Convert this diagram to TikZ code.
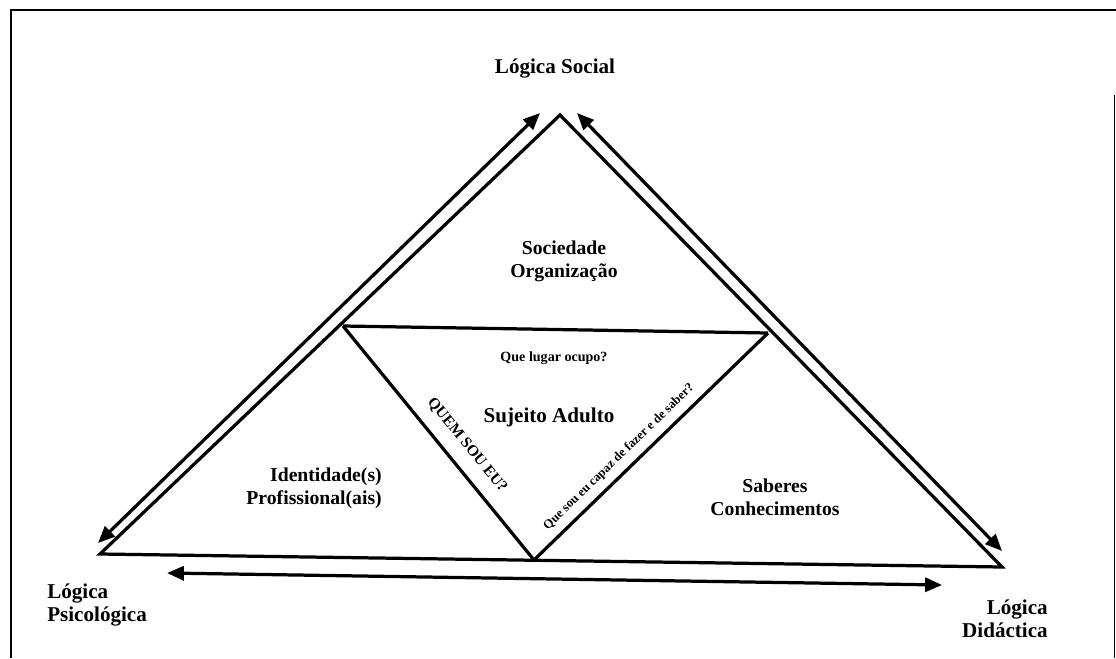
\documentclass[tikz,border=0pt]{standalone}
\usepackage{fontspec}
\setmainfont{Liberation Serif}
\usetikzlibrary{arrows.meta}
\tikzset{
  edge/.style={line width=2.3pt, line join=miter},
  dblarrow/.style={line width=2.3pt,
    {Triangle[length=12pt,width=10pt]}-{Triangle[length=12pt,width=10pt]}},
  lbl/.style={font=\bfseries\fontsize{14}{16.3}\selectfont, align=center, inner sep=0pt},
  logica/.style={lbl, font=\bfseries\fontsize{15}{16.3}\selectfont},
  small/.style={font=\bfseries\fontsize{10}{12}\selectfont, inner sep=0pt},
}

\begin{document}
\begin{tikzpicture}[x=0.025cm, y=-0.025cm]
  \useasboundingbox (0,0) rectangle (1116,658);
  % frame
  \draw[line width=2pt] (11,658) -- (11,10) -- (1116,10);
  \draw[line width=0.6pt] (1114,95) -- (1114,658);

  % corners of the triangles
  \coordinate (top) at (560,115);
  \coordinate (bl) at (100,554);
  \coordinate (br) at (1002,567);
  \coordinate (ml) at (343,326);
  \coordinate (mr) at (768,333);
  \coordinate (mb) at (534,560);
  \draw[edge] (bl) -- (top) -- (br) -- cycle;
  \draw[edge] (ml) -- (mr);
  \draw[edge] (ml) -- (mb) -- (mr);

  % arrow ends
  \coordinate (psiA) at (98,543);
  \coordinate (socA) at (540,113);
  \coordinate (socB) at (577,113);
  \coordinate (didA) at (1002,551);
  \coordinate (botA) at (167,573);
  \coordinate (botB) at (942,585);
  \draw[dblarrow] (psiA) -- (socA);
  \draw[dblarrow] (socB) -- (didA);
  \draw[dblarrow] (botA) -- (botB);

  % labels
  \node[logica] (social) at (555,68) {Lógica Social};
  \node[logica, align=left, anchor=west] (psico) at (47,605) {Lógica\\Psicológica};
  \node[logica, align=right, anchor=east] (didac) at (1048,619) {Lógica\\Didáctica};
  \node[lbl] (socied) at (564,261) {Sociedade\\Organização};
  \node[small] (lugar) at (554,358) {Que lugar ocupo?};
  \node[lbl, font=\bfseries\fontsize{15}{18}\selectfont] (sujeito) at (549,417) {Sujeito Adulto};
  \node[lbl, align=right, anchor=east] (ident) at (382,488) {Identidade(s)\\Profissional(ais)};
  \node[lbl] (saberes) at (775,497) {Saberes\\Conhecimentos};
  \node[small, font=\bfseries\fontsize{11}{13}\selectfont, rotate=-50.8] (quem) at (467,445) {QUEM SOU EU?};
  \node[small, font=\bfseries\fontsize{9}{11}\selectfont, rotate=44.1] (capaz) at (619,457) {Que sou eu capaz de fazer e de saber?};
\end{tikzpicture}
\end{document}
